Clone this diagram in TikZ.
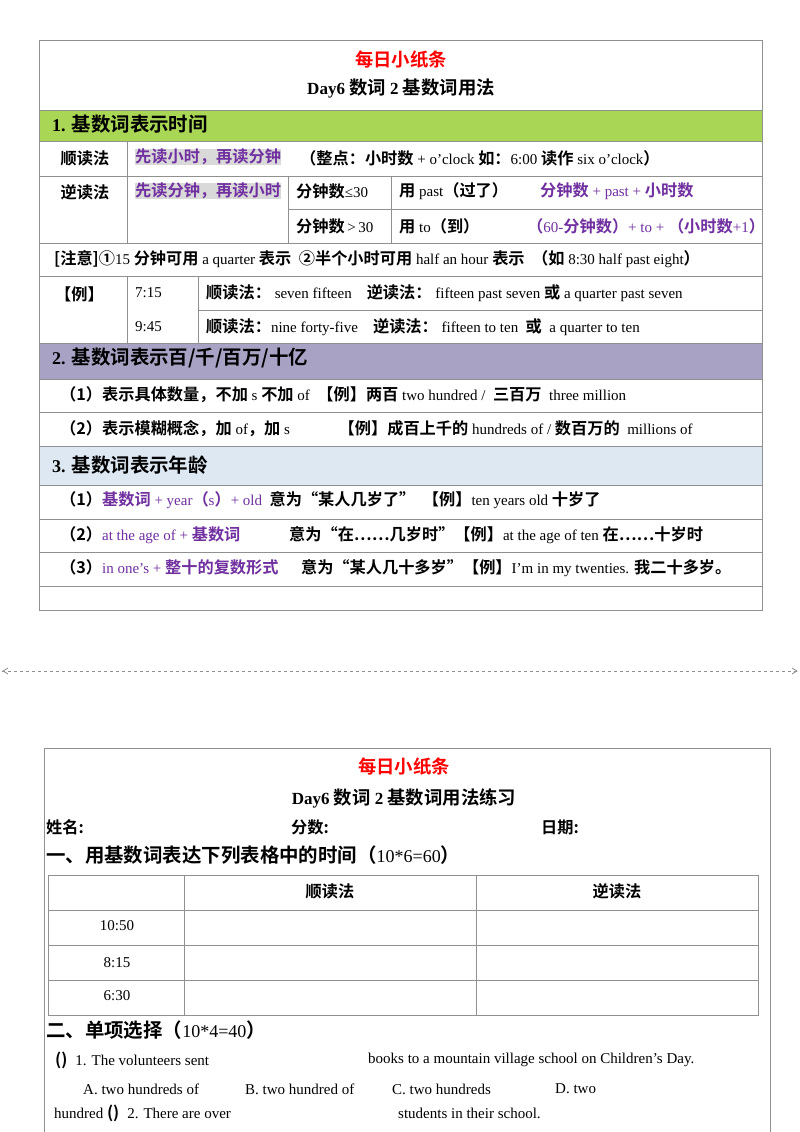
\documentclass[tikz,border=0pt]{standalone}
\usepackage{fontspec}
\setmainfont{Liberation Serif}
\newfontfamily\cjf{Noto Sans CJK SC}[BoldFont={* Bold},Scale=1.08]
\newcommand{\cj}[1]{{\cjf\bfseries #1}}
\definecolor{pur}{HTML}{7030A0}
\definecolor{hl}{HTML}{D9D9D9}
\definecolor{gband}{HTML}{A9D654}
\definecolor{pband}{HTML}{A8A3C4}
\definecolor{bband}{HTML}{DDE8F3}
\definecolor{ln}{HTML}{909090}
\begin{document}
\begin{tikzpicture}[x=1pt,y=-1pt,
  t/.style={anchor=west,inner sep=0pt,font=\fontsize{15}{17}\selectfont},
  tc/.style={inner sep=0pt,font=\fontsize{15}{17}\selectfont},
  hd/.style={anchor=west,inner sep=0pt,font=\fontsize{18}{20}\selectfont},
  grid/.style={draw=ln,line width=0.6pt}]
\useasboundingbox (0,0) rectangle (800,1132);
\fill[white] (0,0) rectangle (800,1132);
% ===== top card =====
\fill[gband] (39,110) rectangle (762,141);
\fill[pband] (39,343) rectangle (762,379);
\fill[bband] (39,446) rectangle (762,485);
\draw[grid] (39,40) rectangle (762,610);
\foreach \y in {110,141,176,243,276,343,379,412,446,485,519,552,586}
  \draw[grid] (39,\y) -- (762,\y);
\draw[grid] (288,209) -- (762,209);
\draw[grid] (198,310) -- (762,310);
\draw[grid] (127,141) -- (127,243);
\draw[grid] (288,176) -- (288,243);
\draw[grid] (391,176) -- (391,243);
\draw[grid] (127,276) -- (127,343);
\draw[grid] (198,276) -- (198,343);
\node[tc,text=red,font=\fontsize{17}{20}\selectfont] (t1) at (401,60) {\cj{每日小纸条}};
\node[tc,font=\fontsize{17}{20}\selectfont] (t2) at (401,89) {\textbf{Day6} \cj{数词} \textbf{2} \cj{基数词用法}};
\node[hd] (h1) at (52,124) {\textbf{1.} \cj{基数词表示时间}};
\node[tc] (a1) at (85,158) {\cj{顺读法}};
\node[t,fill=hl,text=pur] (a2) at (135,157) {\cj{先读小时，再读分钟}};
\node[t] (a3) at (300,158) {\cj{（整点：小时数} + o'clock \cj{如：}6:00 \cj{读作} six o'clock\cj{）}};
\node[tc] (b1) at (85,192) {\cj{逆读法}};
\node[t,fill=hl,text=pur] (b2) at (135,191) {\cj{先读分钟，再读小时}};
\node[t] (b3) at (296,191) {\cj{分钟数}≤30};
\node[t] (b4) at (399,191) {\cj{用} past\cj{（过了）}};
\node[t,text=pur] (b5) at (540,191) {\cj{分钟数} + past + \cj{小时数}};
\node[t] (c3) at (296,226) {\cj{分钟数}\,>\,30};
\node[t] (c4) at (399,226) {\cj{用} to\cj{（到）}};
\node[t,text=pur] (c5) at (527,226) {\cj{（}60-\cj{分钟数）}+ to + \cj{（小时数}+1\cj{）}};
\node[t] (n1) at (54,259) {\cj{[注意]①}15 \cj{分钟可用} a quarter \cj{表示} \ \cj{②半个小时可用} half an hour \cj{表示} \ \cj{（如} 8:30 half past eight\cj{）}};
\node[t] (e1) at (55,294) {\cj{【例】}};
\node[t] (e2) at (135,293) {7:15};
\node[t] (e3) at (206,293) {\cj{顺读法：} seven fifteen\quad \cj{逆读法：} fifteen past seven \cj{或} a quarter past seven};
\node[t] (e4) at (135,327) {9:45};
\node[t] (e5) at (206,327) {\cj{顺读法：}nine forty-five\quad \cj{逆读法：} fifteen to ten \ \cj{或} \ a quarter to ten};
\node[hd] (h2) at (52,358) {\textbf{2.} \cj{基数词表示百/千/百万/十亿}};
\node[t] (f1) at (60,395) {\cj{（1）表示具体数量，不加} s \cj{不加} of \ \cj{【例】两百} two hundred / \ \cj{三百万} \ three million};
\node[t] (f2) at (60,429) {\cj{（2）表示模糊概念，加} of\cj{，加} s \qquad\quad \cj{【例】成百上千的} hundreds of / \cj{数百万的} \ millions of};
\node[hd] (h3) at (52,465) {\textbf{3.} \cj{基数词表示年龄}};
\node[t] (g1) at (60,500) {\cj{（1）}\textcolor{pur}{\cj{基数词} + year\cj{（}s\cj{）}+ old} \ \cj{意为“某人几岁了”} \ \cj{【例】}ten years old \cj{十岁了}};
\node[t] (g2) at (60,535) {\cj{（2）}\textcolor{pur}{at the age of + \cj{基数词}}\qquad\quad\ \cj{意为“在……几岁时”【例】}at the age of ten \cj{在……十岁时}};
\node[t] (g3) at (60,568) {\cj{（3）}\textcolor{pur}{in one's + \cj{整十的复数形式}}\quad\ \ \cj{意为“某人几十多岁”【例】}I'm in my twenties. \cj{我二十多岁。}};
% ===== cut line =====
\draw[ln,dashed,line width=0.8pt] (2,671) -- (798,671);
\draw[ln,line width=0.8pt] (8,668) -- (3,671) -- (8,674);
\draw[ln,line width=0.8pt] (792,668) -- (797,671) -- (792,674);
% ===== bottom card =====
\draw[grid] (44,1132) -- (44,748) -- (770,748) -- (770,1132);
\node[tc,text=red,font=\fontsize{17}{20}\selectfont] (u1) at (404,767) {\cj{每日小纸条}};
\node[tc,font=\fontsize{17}{20}\selectfont] (u2) at (404,798) {\textbf{Day6} \cj{数词} \textbf{2} \cj{基数词用法练习}};
\node[t] (p1) at (46,827) {\cj{姓名:}};
\node[t] (p2) at (291,827) {\cj{分数:}};
\node[t] (p3) at (541,827) {\cj{日期:}};
\node[hd] (q1) at (46,855) {\cj{一、用基数词表达下列表格中的时间（}10*6=60\cj{）}};
\draw[grid] (48,875) rectangle (758,1015);
\foreach \y in {910,945,980} \draw[grid] (48,\y) -- (758,\y);
\draw[grid] (184,875) -- (184,1015);
\draw[grid] (476,875) -- (476,1015);
\node[tc] (r1) at (330,891) {\cj{顺读法}};
\node[tc] (r2) at (617,891) {\cj{逆读法}};
\node[tc] (s1) at (117,926) {10:50};
\node[tc] (s2) at (117,963) {8:15};
\node[tc] (s3) at (117,996) {6:30};
\node[hd] (q2) at (46,1030) {\cj{二、单项选择（}10*4=40\cj{）}};
\node[t] (v1) at (55,1060) {\cj{()}\; 1. The volunteers sent};
\node[t] (v2) at (368,1060) {books to a mountain village school on Children's Day.};
\node[t] (w1) at (83,1089) {A. two hundreds of};
\node[t] (w2) at (245,1089) {B. two hundred of};
\node[t] (w3) at (392,1089) {C. two hundreds};
\node[t] (w4) at (555,1089) {D. two};
\node[t] (x1) at (54,1113) {hundred \cj{()}\; 2. There are over};
\node[t] (x2) at (398,1113) {students in their school.};
\end{tikzpicture}
\end{document}
